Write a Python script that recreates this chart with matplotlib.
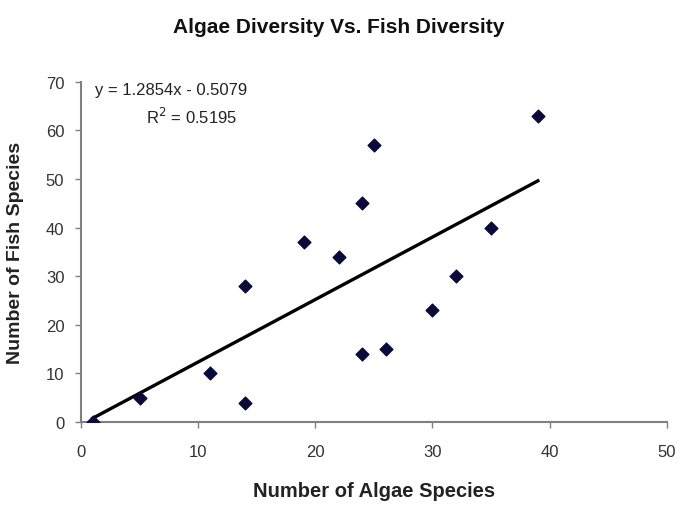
import numpy as np
import matplotlib
matplotlib.use('Agg')
from matplotlib import pyplot as plt

# data
algae = [1, 5, 11, 14, 14, 19, 22, 24, 24, 25, 26, 30, 32, 35, 39]
fish = [0, 5, 10, 4, 28, 37, 34, 45, 14, 57, 15, 23, 30, 40, 63]
x_ticks = [0, 10, 20, 30, 40, 50]
y_ticks = [0, 10, 20, 30, 40, 50, 60, 70]
eq_text = 'y = 1.2854x - 0.5079'
r2_text = 'R$^2$ = 0.5195'

plt.rcParams['font.family'] = ['Liberation Sans', 'DejaVu Sans']

fig = plt.figure(figsize=(6.81, 5.10), dpi=100)
ax = fig.add_axes([0.119, 0.1706, 0.860, 0.667])

ax.scatter(algae, fish, marker='D', s=42, color='#0a0a3a', zorder=3)

# linear trendline over the data range
m, b = np.polyfit(algae, fish, 1)
xs = np.array([min(algae), max(algae)])
ax.plot(xs, m * xs + b, color='black', lw=2.4, zorder=2)

ax.set_xlim(0, 50)
ax.set_ylim(0, 70)
ax.set_xticks(x_ticks)
ax.set_yticks(y_ticks)
ax.tick_params(axis='both', direction='out', length=4, width=1, color='#808080',
               labelsize=12, labelcolor='#333333')
ax.tick_params(axis='x', pad=12)
ax.tick_params(axis='y', pad=8)

for s in ['top', 'right']:
    ax.spines[s].set_visible(False)
for s in ['left', 'bottom']:
    ax.spines[s].set_color('#808080')
    ax.spines[s].set_linewidth(1.5)

ax.text(1.2, 70, eq_text, fontsize=12, color='#222222', va='top', ha='left')
ax.text(9.4, 65.0, r2_text, fontsize=12, color='#222222', va='top', ha='center')

fig.text(0.497, 0.947, 'Algae Diversity Vs. Fish Diversity', ha='center', va='center',
         fontsize=15, fontweight='bold', color='#111111')
ax.set_xlabel('Number of Algae Species', fontsize=14.5, fontweight='bold', color='#222222', labelpad=16)
ax.set_ylabel('Number of Fish Species', fontsize=14, fontweight='bold', color='#222222', labelpad=16)

fig.savefig('out.png', dpi=100, facecolor='white')
